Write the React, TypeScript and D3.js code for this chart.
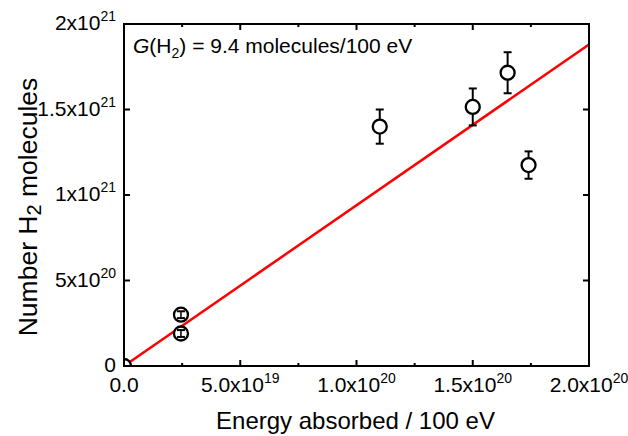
import React from 'react'
import * as d3 from 'd3'

// data
const energy = [0, 2.45e19, 2.45e19, 1.1e20, 1.5e20, 1.65e20, 1.74e20]
const molecules = [0, 3.0e20, 1.9e20, 1.4e21, 1.515e21, 1.715e21, 1.175e21]
const errors = [0, 2e19, 2e19, 1.0e20, 1.08e20, 1.2e20, 0.8e20]
const gValue = 9.4 // molecules / 100 eV, slope of the fit

const xTicks = [0, 5e19, 1e20, 1.5e20, 2e20]
const xTickMant = ['0.0', '5.0x10', '1.0x10', '1.5x10', '2.0x10']
const xTickExp = ['', '19', '20', '20', '20']
const xMinor = [2.5e19, 7.5e19, 1.25e20, 1.75e20]
const yTicks = [0, 5e20, 1e21, 1.5e21, 2e21]
const yTickMant = ['0', '5x10', '1x10', '1.5x10', '2x10']
const yTickExp = ['', '20', '21', '21', '21']

const W = 628
const H = 436
const left = 124
const right = 589
const top = 24
const bottom = 366
const R = 7
const font = 'Liberation Sans, Arial, sans-serif'

export default function App() {
  const x = d3.scaleLinear().domain([0, 2e20]).range([left, right])
  const y = d3.scaleLinear().domain([0, 2e21]).range([bottom, top])

  const fit = d3.line<number>()
    .x(d => x(d))
    .y(d => y(d * gValue))
  const fitPath = fit([0, 2e20]) || ''

  return (
    <svg width={W} height={H} style={{ position: 'absolute', left: 0, top: 0, background: '#fff' }}
      fontFamily={font}>
      <defs>
        <clipPath id="plot">
          <rect x={left} y={top} width={right - left} height={bottom - top} />
        </clipPath>
      </defs>

      {/* ticks, inward, on all four sides */}
      <g stroke="#000" strokeWidth={2}>
        {xTicks.map((t, i) => (
          <g key={'xt' + i}>
            <line x1={x(t)} x2={x(t)} y1={bottom} y2={bottom - 6} />
            <line x1={x(t)} x2={x(t)} y1={top} y2={top + 6} />
          </g>
        ))}
        {xMinor.map((t, i) => (
          <g key={'xm' + i}>
            <line x1={x(t)} x2={x(t)} y1={bottom} y2={bottom - 3} />
            <line x1={x(t)} x2={x(t)} y1={top} y2={top + 3} />
          </g>
        ))}
        {yTicks.map((t, i) => (
          <g key={'yt' + i}>
            <line x1={left} x2={left + 6} y1={y(t)} y2={y(t)} />
            <line x1={right} x2={right - 6} y1={y(t)} y2={y(t)} />
          </g>
        ))}
      </g>

      {/* fit line */}
      <path d={fitPath} clipPath="url(#plot)" fill="none" stroke="#ff0000" strokeWidth={2.5} />

      {/* points with error bars */}
      <g clipPath="url(#plot)">
        {energy.map((e, i) => {
          const cx = x(e)
          const cy = y(molecules[i])
          const y1 = y(molecules[i] + errors[i])
          const y2 = y(molecules[i] - errors[i])
          const small = cy - y1 < R
          return (
            <g key={'p' + i} stroke="#000" strokeWidth={2}>
              {!small && <line x1={cx} x2={cx} y1={y1} y2={y2} />}
              <circle cx={cx} cy={cy} r={R} fill="#fff" strokeWidth={2.3} />
              {errors[i] > 0 && (
                <g>
                  {small && <line x1={cx} x2={cx} y1={y1} y2={y2} strokeWidth={1.5} />}
                  <line x1={cx - 4} x2={cx + 4} y1={y1} y2={y1} />
                  <line x1={cx - 4} x2={cx + 4} y1={y2} y2={y2} />
                </g>
              )}
            </g>
          )
        })}
      </g>

      {/* frame */}
      <rect x={left} y={top} width={right - left} height={bottom - top} fill="none" stroke="#000" strokeWidth={2} />

      {/* tick labels */}
      <g fontSize={21} fill="#000">
        {xTicks.map((t, i) => (
          <text key={'xl' + i} x={x(t)} y={392} textAnchor="middle">
            {xTickMant[i]}
            {xTickExp[i] && <tspan dy={-9} fontSize={14}>{xTickExp[i]}</tspan>}
          </text>
        ))}
        {yTicks.map((t, i) => (
          <text key={'yl' + i} x={116} y={y(t) + 6} textAnchor="end">
            {yTickMant[i]}
            {yTickExp[i] && <tspan dy={-9} fontSize={14}>{yTickExp[i]}</tspan>}
          </text>
        ))}
      </g>

      {/* annotation */}
      <text x={133} y={53} fontSize={21} fill="#000">
        <tspan fontStyle="italic">G</tspan>(H<tspan dy={5} fontSize={14}>2</tspan>
        <tspan dy={-5}>) = 9.4 molecules/100 eV</tspan>
      </text>

      {/* axis titles */}
      <text x={(left + right) / 2 - 1} y={429} textAnchor="middle" fontSize={24} fill="#000">
        Energy absorbed / 100 eV
      </text>
      <text transform={`translate(37,${(top + bottom) / 2 + 12}) rotate(-90)`} textAnchor="middle" fontSize={26.5} fill="#000">
        Number H<tspan dy={4} fontSize={20}>2</tspan><tspan dy={-4}> molecules</tspan>
      </text>
    </svg>
  )
}
